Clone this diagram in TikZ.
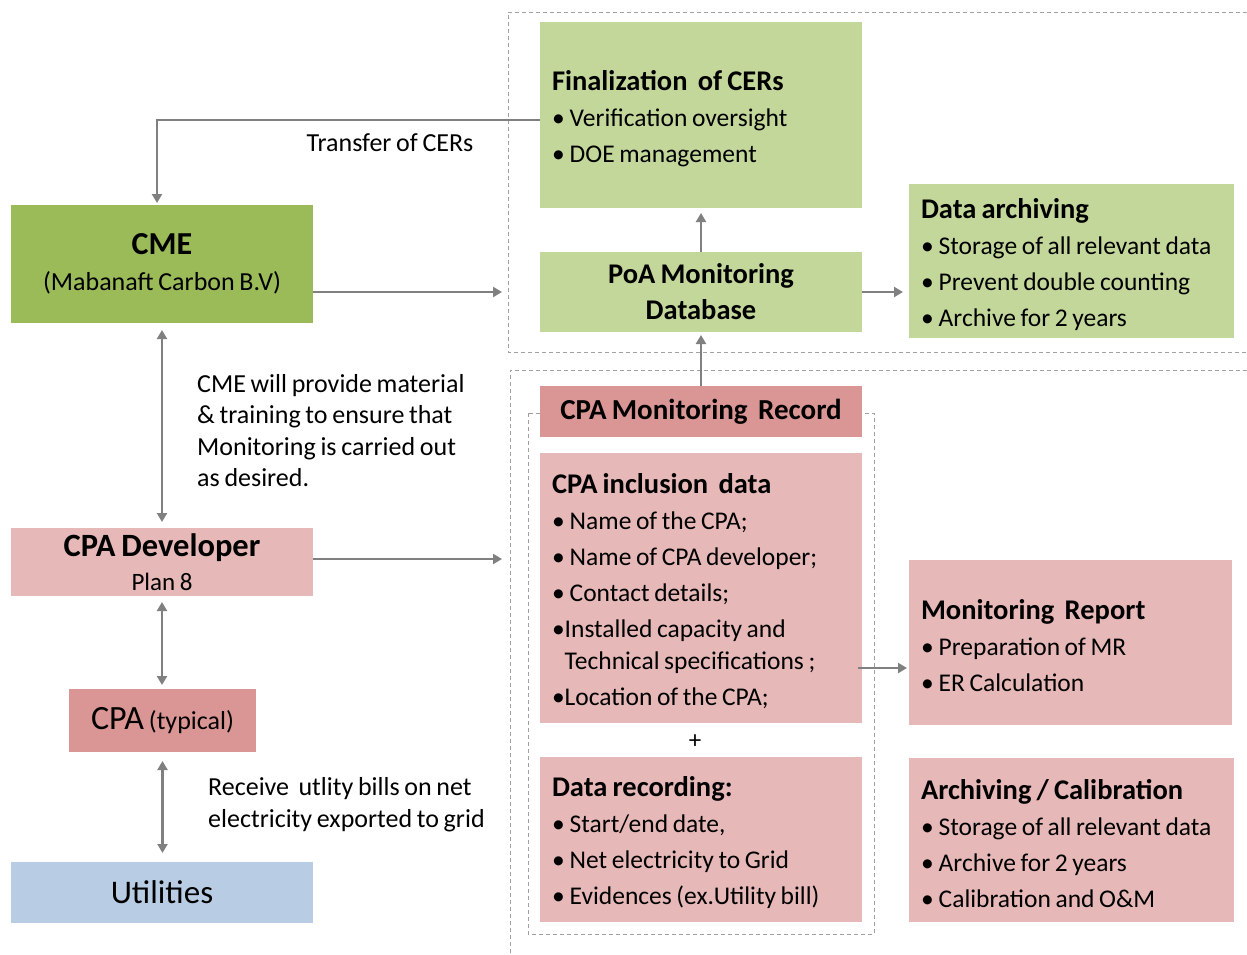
\documentclass[tikz,border=0pt]{standalone}
\usepackage{fontspec}
\setmainfont{Carlito}[WordSpace=0.8]
\usetikzlibrary{arrows.meta}
\definecolor{gdark}{HTML}{9BBB59}
\definecolor{glight}{HTML}{C4D79B}
\definecolor{pdark}{HTML}{DA9694}
\definecolor{plight}{HTML}{E6B8B7}
\definecolor{blight}{HTML}{B8CCE4}
\definecolor{arr}{HTML}{808080}
\definecolor{dash}{HTML}{A0A0A0}
\newcommand{\bodyfont}{\fontsize{25.5}{36}\selectfont}
\newcommand{\ttl}[1]{{\fontsize{28.5}{36}\selectfont\bfseries\rule{0pt}{27pt}#1}}
\newcommand{\bul}{\textbullet\hspace{5pt}}
\begin{document}
\begin{tikzpicture}[x=1pt,y=-1pt,
  box/.style={inner sep=0pt, outer sep=0pt, draw=none, align=center},
  lbox/.style={box, inner xsep=12pt, inner ysep=0pt, align=flush left, font=\bodyfont},
  conn/.style={draw=arr, line width=2.5pt, -{Triangle[length=9pt,width=10pt]}},
  dconn/.style={draw=arr, line width=2.5pt, {Triangle[length=9pt,width=10pt]}-{Triangle[length=9pt,width=10pt]}},
  dashline/.style={draw=dash, line width=1pt, dash pattern=on 4pt off 3pt},
  lbl/.style={font=\fontsize{26}{32}\selectfont, align=left, inner sep=0pt}]
\useasboundingbox (0,0) rectangle (1247,954);
% dashed regions
\draw[dashline] (1247,12) -- (508,12) -- (508,352) -- (1247,352);
\draw[dashline] (1247,370) -- (510,370) -- (510,954);
\draw[dashline] (528,413) rectangle (874,934);
% right boxes
\node[lbox, fill=glight, text width=298pt, minimum height=186pt] (fin) at (701,115)
  {\ttl{Finalization\ \ of CERs}\\ \bul Verification oversight\\ \bul DOE management};
\node[box, fill=glight, minimum width=322pt, minimum height=80pt, font=\fontsize{28.5}{36}\selectfont\bfseries] (poa) at (701,292)
  {PoA Monitoring\\Database};
\node[lbox, fill=glight, text width=301pt, minimum height=154pt] (darch) at (1071.5,261)
  {\ttl{Data archiving}\\ \bul Storage of all relevant data\\ \bul Prevent double counting\\ \bul Archive for 2 years};
\node[box, fill=pdark, minimum width=322pt, minimum height=51pt, font=\fontsize{29}{32}\selectfont\bfseries] (cmr) at (701,411.5)
  {CPA Monitoring\ \ Record};
\node[lbox, fill=plight, text width=298pt, minimum height=270pt] (incl) at (701,588)
  {\ttl{CPA inclusion\ \ data}\\ \bul Name of the CPA;\\ \bul Name of CPA developer;\\ \bul Contact details;\\ \textbullet Installed capacity and\\[-4pt] \phantom{\textbullet}Technical specifications ;\\ \textbullet Location of the CPA;};
\node[font=\fontsize{25}{28}\selectfont, inner sep=0pt] (plus) at (695,742) {+};
\node[lbox, fill=plight, text width=298pt, minimum height=165pt] (drec) at (701,839.5)
  {\ttl{Data recording:}\\ \bul Start/end date,\\ \bul Net electricity to Grid\\ \bul Evidences (ex.Utility bill)};
\node[lbox, fill=plight, text width=299pt, minimum height=165pt] (mr) at (1070.5,642.5)
  {\ttl{Monitoring\ \ Report}\\ \bul Preparation of MR\\ \bul ER Calculation};
\node[lbox, fill=plight, text width=301pt, minimum height=164pt] (acal) at (1071.5,840)
  {\ttl{Archiving / Calibration}\\ \bul Storage of all relevant data\\ \bul Archive for 2 years\\ \bul Calibration and O\&M};
% left boxes
\node[box, fill=gdark, minimum width=302pt, minimum height=118pt, font=\fontsize{26}{36}\selectfont] (cme) at (162,264)
  {{\fontsize{32}{36}\selectfont\bfseries CME}\\ (Mabanaft Carbon B.V)};
\node[box, fill=plight, minimum width=302pt, minimum height=68pt, font=\fontsize{25}{34}\selectfont] (dev) at (162,562)
  {{\fontsize{32.5}{34}\selectfont\bfseries CPA Developer}\\ Plan 8};
\node[box, fill=pdark, minimum width=187pt, minimum height=63pt] (cpa) at (162.5,720.5)
  {{\fontsize{34}{36}\selectfont CPA}\hspace{5pt}{\fontsize{26}{30}\selectfont (typical)}};
\node[box, fill=blight, minimum width=302pt, minimum height=61pt, font=\fontsize{33}{36}\selectfont] (util) at (162,892.5)
  {Utilities};
% labels
\node[lbl] (ltr) at (390,143) {Transfer of CERs};
\node[lbl, anchor=west, font=\fontsize{26}{31.6}\selectfont] (lcme) at (197,430.5)
  {CME will provide material\\ \& training to ensure that\\ Monitoring is carried out\\ as desired.};
\node[lbl, anchor=west] (lrec) at (208,805)
  {Receive\ \ utlity bills on net\\ electricity exported to grid};
% free ends
\coordinate (e1) at (502,292);
\coordinate (e2) at (502,559);
% connectors
\draw[conn, shorten >=2pt] ([yshift=-5pt]fin.west) -| ([xshift=-5pt]cme.north);
\draw[conn, shorten >=5pt] (poa.north) -- (fin.south);
\draw[conn, shorten >=6pt] (poa.east) -- (poa.east -| darch.west);
\draw[conn, shorten >=3pt] (cmr.north) -- (poa.south);
\draw[conn, shorten >=2pt] ([xshift=-4pt,yshift=-80pt]incl.east) -- ([yshift=-25.5pt]mr.west);
\draw[conn] ([yshift=-28pt]cme.east) -- (e1);
\draw[conn] ([yshift=3pt]dev.east) -- (e2);
\draw[dconn, shorten <=7pt, shorten >=6pt] (cme.south) -- (dev.north);
\draw[dconn, shorten <=6pt, shorten >=4pt] (dev.south) -- (dev.south |- cpa.north);
\draw[dconn, shorten <=9pt, shorten >=9pt] (cpa.south) -- (cpa.south |- util.north);
\end{tikzpicture}
\end{document}
